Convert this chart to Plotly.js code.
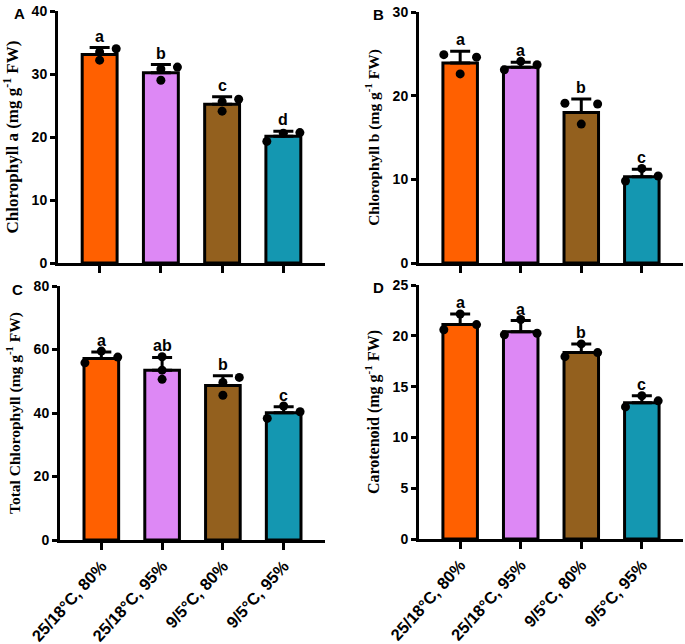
<!DOCTYPE html>
<html>
<head>
<meta charset="utf-8">
<script src="https://cdn.plot.ly/plotly-3.0.1.min.js"></script>
<style>html,body{margin:0;padding:0;background:#fff;}#chart{width:685px;height:644px;}</style>
</head>
<body>
<div id="chart"></div>
<script>
// ---- data ----
const categories = ["25/18°C, 80%", "25/18°C, 95%", "9/5°C, 80%", "9/5°C, 95%"];
const barColors = ["#FF6000", "#DD88F5", "#93601E", "#1497B1"];

const chlA_mean = [33.1, 30.2, 25.2, 20.1];
const chlA_err  = [1.1, 1.3, 1.2, 0.8];
const chlA_pts  = [[33.5, 32.2, 34.0], [30.8, 29.0, 31.1], [25.6, 24.1, 26.0], [20.6, 19.3, 20.7]];
const chlA_letters = ["a", "b", "c", "d"];
const chlA_ticks = [0, 10, 20, 30, 40];

const chlB_mean = [23.9, 23.4, 18.0, 10.3];
const chlB_err  = [1.4, 0.6, 1.6, 0.9];
const chlB_pts  = [[24.9, 22.6, 24.6], [23.1, 24.1, 23.7], [19.1, 16.6, 19.0], [9.8, 11.3, 10.4]];
const chlB_letters = ["a", "a", "b", "c"];
const chlB_ticks = [0, 10, 20, 30];

const total_mean = [57.2, 53.5, 48.7, 40.1];
const total_err  = [2.0, 4.0, 3.0, 1.9];
const total_pts  = [[55.8, 59.5, 57.6], [57.7, 53.5, 50.6], [49.6, 45.6, 51.2], [38.3, 42.2, 40.4]];
const total_letters = ["a", "ab", "b", "c"];
const total_ticks = [0, 20, 40, 60, 80];

const car_mean = [21.1, 20.4, 18.35, 13.4];
const car_err  = [1.05, 1.1, 0.85, 0.7];
const car_pts  = [[20.6, 22.15, 21.1], [20.1, 21.6, 20.25], [17.95, 19.2, 18.35], [13.0, 14.1, 13.6]];
const car_letters = ["a", "a", "b", "c"];
const car_ticks = [0, 5, 10, 15, 20, 25];

// horizontal side of each replicate point (-1 left, 0 centre, +1 right)
const side_A = [[0, 0, 1], [0, 0, 1], [0, 0, 1], [0, -1, 1]];
const side_B = [[-1, 0, 1], [-1, 0, 1], [-1, 0, 1], [-1, 0, 1]];
const side_C = [[-1, 0, 1], [0, 0, 0], [0, 0, 1], [-1, 0, 1]];
const side_D = [[-1, 0, 1], [-1, 0, 1], [-1, 0, 1], [-1, 0, 1]];

// ---- styling ----
const SANS = "Liberation Sans, Arial, sans-serif";
const SERIF = "Liberation Serif, Times New Roman, serif";
const JIT = 0.27;
const xIdx = categories.map((_, i) => i);

const panels = [
  {mean: chlA_mean, err: chlA_err, pts: chlA_pts, side: side_A, letters: chlA_letters, ticks: chlA_ticks, xa: "x", ya: "y",
   title: "Chlorophyll a (mg g<sup>-1</sup> FW)", range: [0, 40], tsize: 17, showx: false,
   xdom: [58/685, 325/685], ydom: [1-263/644, 1-11/644], tag: "A", tagx: 12/685, tagy: 1-3/644},
  {mean: chlB_mean, err: chlB_err, pts: chlB_pts, side: side_B, letters: chlB_letters, ticks: chlB_ticks, xa: "x2", ya: "y2",
   title: "Chlorophyll b (mg g<sup>-1</sup> FW)", range: [0, 30], tsize: 15.5, showx: false,
   xdom: [419/685, 683/685], ydom: [1-263/644, 1-12/644], tag: "B", tagx: 371/685, tagy: 1-4/644},
  {mean: total_mean, err: total_err, pts: total_pts, side: side_C, letters: total_letters, ticks: total_ticks, xa: "x3", ya: "y3",
   title: "Total Chlorophyll (mg g<sup>-1</sup> FW)", range: [0, 80], tsize: 15.5, showx: true,
   xdom: [60/685, 325/685], ydom: [1-540/644, 1-286/644], tag: "C", tagx: 10/685, tagy: 1-279/644},
  {mean: car_mean, err: car_err, pts: car_pts, side: side_D, letters: car_letters, ticks: car_ticks, xa: "x4", ya: "y4",
   title: "Carotenoid (mg g<sup>-1</sup> FW)", range: [0, 25], tsize: 16, showx: true,
   xdom: [419/685, 683/685], ydom: [1-539/644, 1-285/644], tag: "D", tagx: 371/685, tagy: 1-277/644}
];

const traces = [];
const annotations = [];
const layout = {
  width: 685, height: 644,
  margin: {l: 0, r: 0, t: 0, b: 0},
  paper_bgcolor: "#fff", plot_bgcolor: "rgba(0,0,0,0)",
  showlegend: false,
  font: {family: SANS, color: "#000"},
  annotations: annotations
};

panels.forEach((p, k) => {
  traces.push({
    type: "bar", x: xIdx, y: p.mean, xaxis: p.xa, yaxis: p.ya, width: 0.57,
    marker: {color: barColors, line: {color: "#000", width: 3}},
    error_y: {type: "data", symmetric: false, array: p.err, arrayminus: p.err.map(() => 0),
              color: "#000", thickness: 3, width: 10},
    hoverinfo: "skip"
  });
  const px = [], py = [];
  p.pts.forEach((arr, i) => arr.forEach((v, j) => { px.push(i + p.side[i][j] * JIT); py.push(v); }));
  traces.push({
    type: "scatter", mode: "markers", x: px, y: py, xaxis: p.xa, yaxis: p.ya,
    marker: {color: "#000", size: 9}, hoverinfo: "skip", cliponaxis: false
  });
  p.letters.forEach((t, i) => {
    annotations.push({
      xref: p.xa, yref: p.ya, x: i, y: p.mean[i] + p.err[i], text: "<b>" + t + "</b>", showarrow: false,
      yanchor: "bottom", yshift: 1, font: {family: SANS, size: 16, color: "#000"}
    });
  });
  annotations.push({
    xref: "paper", yref: "paper", x: p.tagx, y: p.tagy, xanchor: "left", yanchor: "top",
    text: "<b>" + p.tag + "</b>", showarrow: false, font: {family: SANS, size: 15, color: "#000"}
  });
  const sx = k === 0 ? "xaxis" : "xaxis" + (k + 1);
  const sy = k === 0 ? "yaxis" : "yaxis" + (k + 1);
  layout[sx] = {
    domain: p.xdom, anchor: p.ya, range: [-0.68, 3.68], fixedrange: true,
    tickvals: xIdx, ticktext: categories.map(c => "<b>" + c + "</b>"), showticklabels: p.showx,
    tickangle: -48, ticks: "outside", ticklen: 7, tickwidth: 3, tickcolor: "#000",
    showline: true, linewidth: 3, linecolor: "#000", showgrid: false, zeroline: false,
    tickfont: {family: SANS, size: 16.5, color: "#000"}
  };
  layout[sy] = {
    domain: p.ydom, anchor: p.xa, range: p.range, fixedrange: true,
    tickvals: p.ticks, ticktext: p.ticks.map(v => "<b>" + v + "</b>"),
    ticks: "outside", ticklen: 5, tickwidth: 3, tickcolor: "#000",
    showline: true, linewidth: 3, linecolor: "#000", showgrid: false, zeroline: false,
    tickfont: {family: SANS, size: 14, color: "#000"},
    title: {text: "<b>" + p.title + "</b>", standoff: 10, font: {family: SERIF, size: p.tsize, color: "#000"}}
  };
});

Plotly.newPlot("chart", traces, layout, {staticPlot: true, displayModeBar: false});
</script>
</body>
</html>
